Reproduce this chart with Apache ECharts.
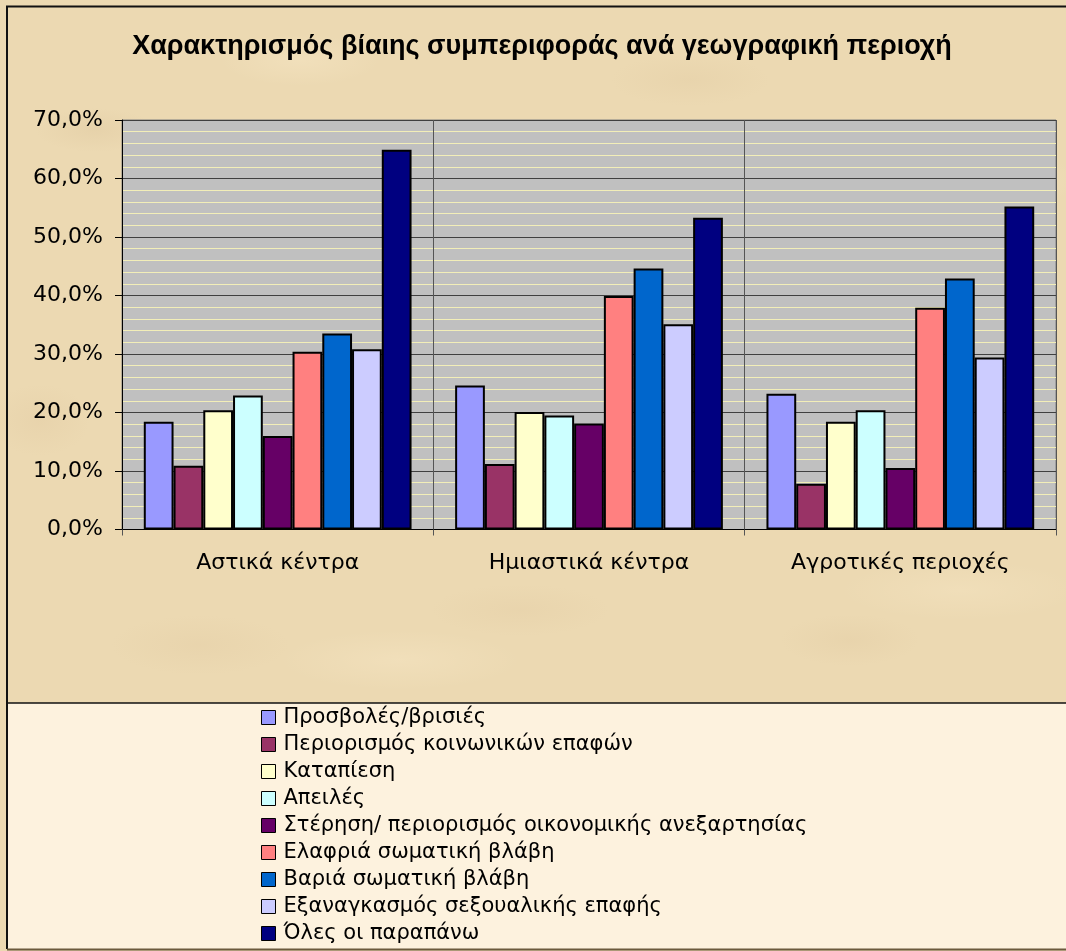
<!DOCTYPE html>
<html>
<head>
<meta charset="utf-8">
<title>Χαρακτηρισμός βίαιης συμπεριφοράς</title>
<script src="https://cdn.jsdelivr.net/npm/echarts@6/dist/echarts.min.js"></script>
<style>
  html, body { margin: 0; padding: 0; }
  body {
    width: 1066px; height: 951px; overflow: hidden;
    background-color: #ecd9b2;
    /* soft parchment mottling */
    background-image:
      radial-gradient(ellipse 60px 22px at 95px 130px, rgba(190,160,115,0.12), transparent),
      radial-gradient(ellipse 80px 26px at 300px 60px, rgba(255,240,210,0.28), transparent),
      radial-gradient(ellipse 90px 26px at 520px 610px, rgba(200,165,120,0.09), transparent),
      radial-gradient(ellipse 70px 26px at 850px 640px, rgba(195,160,115,0.09), transparent),
      radial-gradient(ellipse 90px 30px at 200px 645px, rgba(200,165,120,0.09), transparent),
      radial-gradient(ellipse 70px 26px at 1010px 180px, rgba(255,240,210,0.25), transparent),
      radial-gradient(ellipse 80px 26px at 690px 80px, rgba(200,170,125,0.10), transparent),
      radial-gradient(ellipse 50px 36px at 40px 420px, rgba(200,165,120,0.10), transparent),
      radial-gradient(ellipse 120px 30px at 400px 660px, rgba(255,240,210,0.25), transparent),
      radial-gradient(ellipse 120px 30px at 960px 590px, rgba(255,240,210,0.22), transparent);
  }
  #chart { width: 1066px; height: 951px; }
</style>
</head>
<body>
<div id="chart"></div>
<script>
// Regions shown on the category axis
const categories = ['Αστικά κέντρα', 'Ημιαστικά κέντρα', 'Αγροτικές περιοχές'];

// Types of violent behaviour (one bar series each)
const seriesNames = [
  'Προσβολές/βρισιές',
  'Περιορισμός κοινωνικών επαφών',
  'Καταπίεση',
  'Απειλές',
  'Στέρηση/ περιορισμός οικονομικής ανεξαρτησίας',
  'Ελαφριά σωματική βλάβη',
  'Βαριά σωματική βλάβη',
  'Εξαναγκασμός σεξουαλικής επαφής',
  'Όλες οι παραπάνω'
];

// Percentages per region, in the order of categories
const insults        = [18.4, 24.6, 23.2];
const socialLimits   = [10.9, 11.2, 7.8];
const oppression     = [20.4, 20.1, 18.4];
const threats        = [22.9, 19.5, 20.4];
const economicLimits = [16.0, 18.1, 10.5];
const lightInjury    = [30.4, 39.9, 37.9];
const severeInjury   = [33.5, 44.6, 42.9];
const sexualCoercion = [30.8, 35.1, 29.4];
const allOfThem      = [64.9, 53.3, 55.2];

const seriesValues = [insults, socialLimits, oppression, threats, economicLimits,
                      lightInjury, severeInjury, sexualCoercion, allOfThem];

// Value axis ticks
const yMin = 0, yMax = 70, yStep = 10;

const colors = ['#9999FF', '#993366', '#FFFFCC', '#CCFFFF', '#660066',
                '#FF8080', '#0066CC', '#CCCCFF', '#000080'];

const fontFamily = '"DejaVu Sans", Verdana, sans-serif';

const chart = echarts.init(document.getElementById('chart'), null, { renderer: 'canvas' });

chart.setOption({
  backgroundColor: 'transparent',
  animation: false,
  color: colors,
  title: {
    text: 'Χαρακτηρισμός βίαιης συμπεριφοράς ανά γεωγραφική περιοχή',
    left: 542,
    top: 33,
    padding: 0,
    textAlign: 'center',
    textStyle: {
      fontFamily: '"Liberation Sans", Arial, sans-serif',
      fontWeight: 'bold',
      fontSize: 27,
      color: '#000'
    }
  },
  graphic: [
    {
      type: 'rect', silent: true, z: -10,
      shape: { x: 8, y: 703, width: 1058, height: 246 },
      style: { fill: 'rgba(255,245,228,0.88)' }
    },
    {
      type: 'line', silent: true, z: -5,
      shape: { x1: 7, y1: 703, x2: 1066, y2: 703 },
      style: { stroke: '#111', lineWidth: 1.5 }
    },
    {
      type: 'polyline', silent: true, z: -5,
      shape: { points: [[7, 949], [7, 6.5], [1066, 6.5]] },
      style: { stroke: '#111', lineWidth: 2, fill: null }
    },
    {
      type: 'line', silent: true, z: -5,
      shape: { x1: 7, y1: 949.5, x2: 1066, y2: 949.5 },
      style: { stroke: '#6b5a3c', lineWidth: 2 }
    }
  ],
  legend: {
    orient: 'vertical',
    left: 261,
    top: 707,
    padding: 0,
    icon: 'rect',
    itemWidth: 14,
    itemHeight: 14,
    itemGap: 6,
    data: seriesNames,
    itemStyle: { borderColor: '#000', borderWidth: 1 },
    textStyle: {
      fontFamily: fontFamily,
      fontSize: 21,
      lineHeight: 21,
      color: '#000',
      padding: [0, 0, 0, 3]
    }
  },
  grid: {
    left: 122,
    top: 120,
    right: 10,
    bottom: 421.5,
    show: true,
    backgroundColor: '#C0C0C0',
    borderColor: '#808080',
    borderWidth: 1,
    containLabel: false
  },
  xAxis: {
    type: 'category',
    data: categories,
    axisLine: { show: true, lineStyle: { color: '#000', width: 1 } },
    axisTick: { show: true, length: 6, lineStyle: { color: '#555', width: 1 } },
    splitLine: { show: true, lineStyle: { color: '#555', width: 1 } },
    axisLabel: {
      margin: 23,
      fontFamily: fontFamily,
      fontSize: 22,
      color: '#000'
    }
  },
  yAxis: {
    type: 'value',
    min: yMin,
    max: yMax,
    interval: yStep,
    axisLine: { show: true, lineStyle: { color: '#000', width: 1 } },
    axisTick: { show: true, length: 7, lineStyle: { color: '#000', width: 1 } },
    splitLine: { show: true, lineStyle: { color: '#404040', width: 1 } },
    minorTick: { show: false, splitNumber: 5 },
    minorSplitLine: { show: true, lineStyle: { color: '#F2EEB8', width: 1 } },
    axisLabel: {
      margin: 19,
      fontFamily: fontFamily,
      fontSize: 22,
      color: '#000',
      formatter: v => v.toFixed(1).replace('.', ',') + '%'
    }
  },
  series: seriesNames.map((name, i) => ({
    name: name,
    type: 'bar',
    data: seriesValues[i],
    barGap: '0%',
    barCategoryGap: '14%',
    itemStyle: { color: colors[i], borderColor: '#000', borderWidth: 2 }
  }))
});
</script>
</body>
</html>
